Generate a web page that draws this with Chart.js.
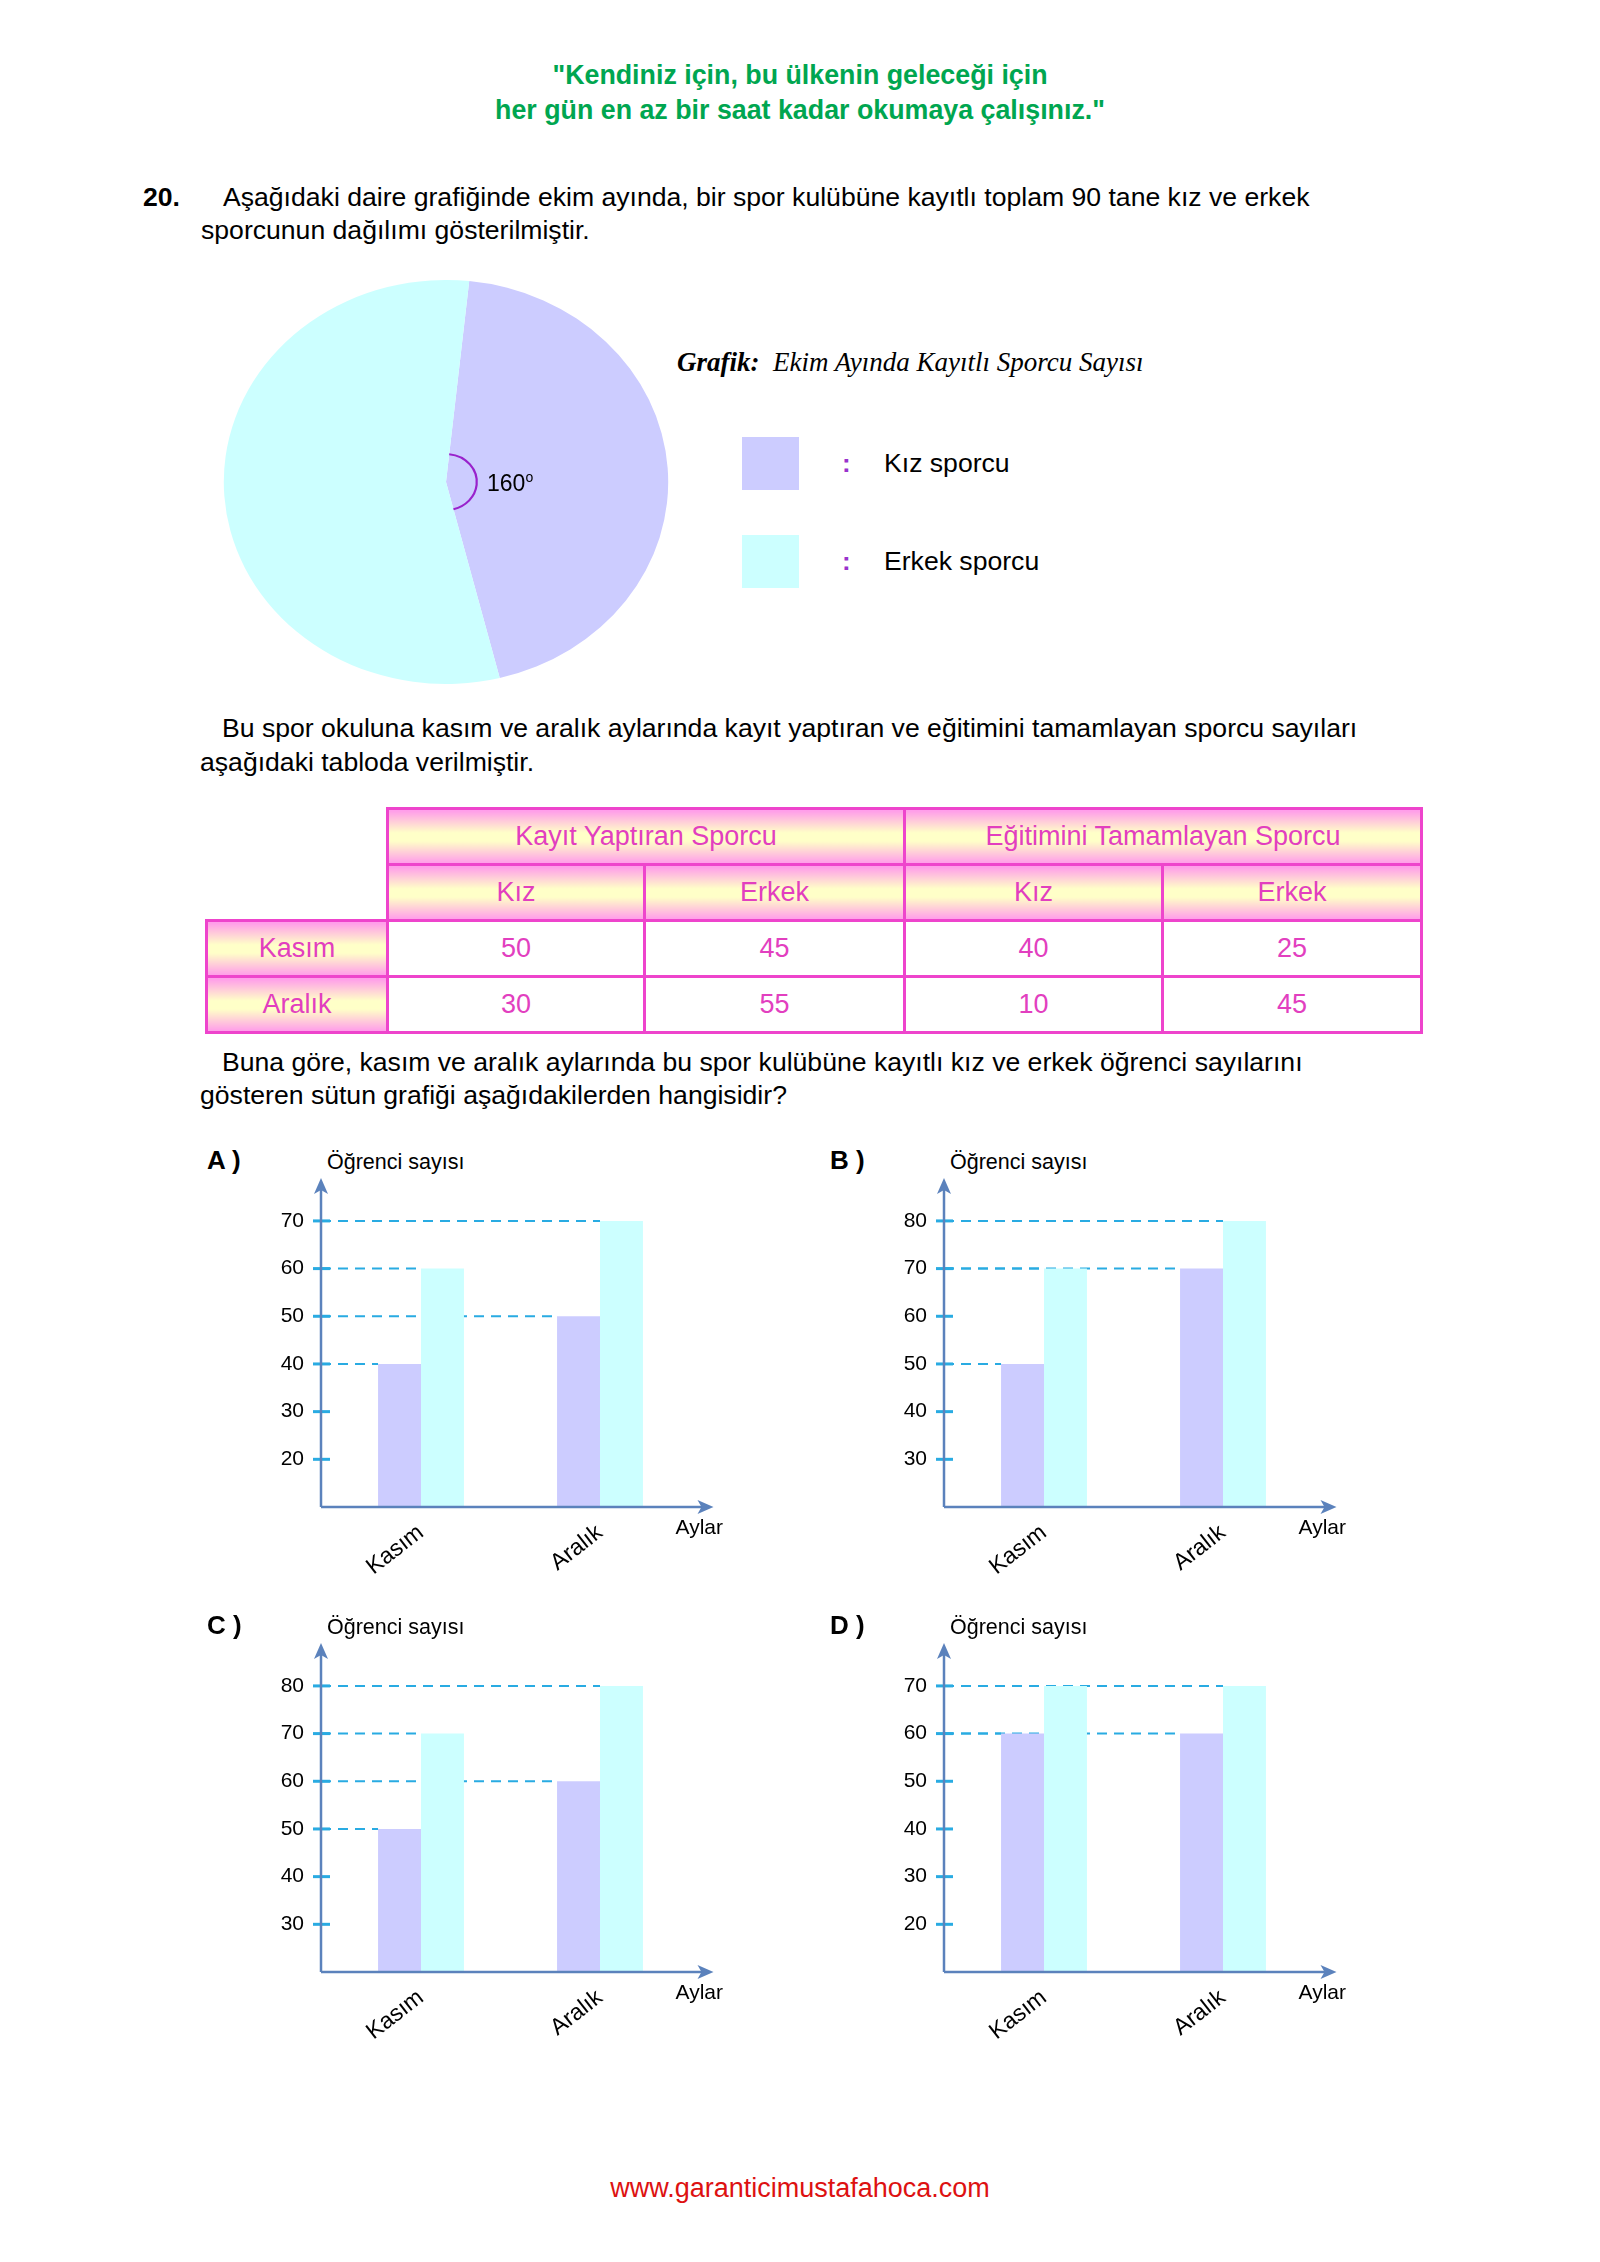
<!DOCTYPE html>
<html>
<head>
<meta charset="utf-8">
<script src="https://cdn.jsdelivr.net/npm/chart.js@4"></script>
<style>
  body { margin: 0; background: #fff; }
  #page { position: relative; width: 1600px; height: 2262px; font-family: "Liberation Sans", Arial, sans-serif; color: #000; }
  .t { position: absolute; white-space: nowrap; font-size: 26.6px; line-height: 30px; }
  .green { color: #00a650; font-weight: bold; width: 1600px; left: 0; text-align: center; font-size: 26.8px; }
  .panel { position: absolute; width: 620px; height: 460px; }
  .panel .letter { position: absolute; left: 27px; top: 25px; font-size: 26px; font-weight: bold; line-height: 30px; }
  .panel .ytitle { position: absolute; left: 147px; top: 29px; font-size: 21.5px; line-height: 26px; }
  .panel canvas { position: absolute; left: 60px; top: 40px; }
  #tbl { position: absolute; left: 205px; top: 807px; border-collapse: collapse; table-layout: fixed; width: 1215px; font-size: 27px; color: #e23fbf; }
  #tbl tr { height: 56px; }
  #tbl td { border: 3px solid #ee44cc; text-align: center; padding: 0; }
  #tbl td.h { background: linear-gradient(#ff9bea, #ffffc8 42%, #ffffc8 58%, #ff9bea); }
  #tbl td.blank { border-top: none; border-left: none; background: none; }
  #tbl td.blank.first { border-bottom: none; }
  .lbox { position: absolute; width: 57px; height: 53px; }
  .colon { position: absolute; color: #9933cc; font-weight: bold; font-size: 26px; line-height: 30px; }
</style>
</head>
<body>
<div id="page">
  <div class="t green" style="top:60px">"Kendiniz için, bu ülkenin geleceği için</div>
  <div class="t green" style="top:95px">her gün en az bir saat kadar okumaya çalışınız."</div>

  <div class="t" style="left:143px; top:182px; font-weight:bold">20.</div>
  <div class="t" style="left:223px; top:182px">Aşağıdaki daire grafiğinde ekim ayında, bir spor kulübüne kayıtlı toplam 90 tane kız ve erkek</div>
  <div class="t" style="left:201px; top:215px">sporcunun dağılımı gösterilmiştir.</div>

  <canvas id="pie" style="position:absolute; left:223px; top:280px;"></canvas>
  <div class="t" style="left:487px; top:463px; font-size:23px; line-height:28px">160<sup style="font-size:14px; vertical-align:9px">o</sup></div>

  <div class="t" style="left:677px; top:347px; font-family:'Liberation Serif','Times New Roman',serif; font-style:italic; font-size:27px">
    <b>Grafik:</b>&nbsp; Ekim Ayında Kayıtlı Sporcu Sayısı</div>
  <div id="legend"></div>

  <div class="t" style="left:222px; top:713px">Bu spor okuluna kasım ve aralık aylarında kayıt yaptıran ve eğitimini tamamlayan sporcu sayıları</div>
  <div class="t" style="left:200px; top:747px">aşağıdaki tabloda verilmiştir.</div>

  <table id="tbl"></table>

  <div class="t" style="left:222px; top:1047px">Buna göre, kasım ve aralık aylarında bu spor kulübüne kayıtlı kız ve erkek öğrenci sayılarını</div>
  <div class="t" style="left:200px; top:1080px">gösteren sütun grafiği aşağıdakilerden hangisidir?</div>

  <div id="panels"></div>

  <div class="t" style="left:0; width:1600px; text-align:center; top:2173px; color:#dd1111; font-size:27px">www.garanticimustafahoca.com</div>
</div>

<script>
// --- pie data (ekim) ---
const pieLabels = ['Kız sporcu', 'Erkek sporcu'];
const pieValues = [40, 50];          // 40 kız -> 160 derece
const pieColors = ['#ccccff', '#ccffff'];

// --- table data ---
const tableGroups = ['Kayıt Yaptıran Sporcu', 'Eğitimini Tamamlayan Sporcu'];
const tableCols = ['Kız', 'Erkek', 'Kız', 'Erkek'];
const tableRows = ['Kasım', 'Aralık'];
const kasimRow = [50, 45, 40, 25];
const aralikRow = [30, 55, 10, 45];

// --- bar chart options A..D ---
const months = ['Kasım', 'Aralık'];
const seriesNames = ['Kız', 'Erkek'];
const kizA = [40, 50], erkekA = [60, 70];
const kizB = [50, 70], erkekB = [70, 80];
const kizC = [50, 60], erkekC = [70, 80];
const kizD = [60, 60], erkekD = [70, 70];
const ticksA = [20, 30, 40, 50, 60, 70];
const ticksB = [30, 40, 50, 60, 70, 80];
const ticksC = [30, 40, 50, 60, 70, 80];
const ticksD = [20, 30, 40, 50, 60, 70];

const AXIS_COLOR = '#5b82bc';
const TICK_COLOR = '#29abe2';
const AXIS_GAP = 10.5;   // y axis line sits a bit left of the plot area

Chart.defaults.font.family = "'Liberation Sans', Arial, sans-serif";
Chart.defaults.animation = false;

// legend
const legend = document.getElementById('legend');
pieLabels.forEach((lab, i) => {
    const top = 437 + i * 98;
    legend.innerHTML += '<div class="lbox" style="left:742px; top:' + top + 'px; background:' + pieColors[i] + '"></div>' +
        '<div class="colon" style="left:842px; top:' + (top + 11) + 'px">:</div>' +
        '<div class="t" style="left:884px; top:' + (top + 11) + 'px">' + lab + '</div>';
});

// table
const tbl = document.getElementById('tbl');
const colW = [181, 257, 260, 258, 259];
let html = '<colgroup>' + colW.map(w => '<col style="width:' + w + 'px">').join('') + '</colgroup>';
html += '<tr><td class="blank first"></td>';
tableGroups.forEach(g => { html += '<td class="h" colspan="2">' + g + '</td>'; });
html += '</tr><tr><td class="blank"></td>';
tableCols.forEach(c => { html += '<td class="h">' + c + '</td>'; });
html += '</tr>';
[kasimRow, aralikRow].forEach((row, r) => {
    html += '<tr><td class="h">' + tableRows[r] + '</td>';
    row.forEach(v => { html += '<td>' + v + '</td>'; });
    html += '</tr>';
});
tbl.innerHTML = html;

// pie, drawn slightly wider than tall like the original
const PIE_STRETCH = 1.1;
const pieShape = {
    id: 'pieShape',
    beforeDatasetsDraw(chart) {
        const ctx = chart.ctx;
        const cx = (chart.chartArea.left + chart.chartArea.right) / 2;
        ctx.save();
        ctx.translate(cx, 0);
        ctx.scale(PIE_STRETCH, 1);
        ctx.translate(-cx, 0);
    },
    afterDatasetsDraw(chart) {
        const ctx = chart.ctx;
        const arc = chart.getDatasetMeta(0).data[0];
        ctx.beginPath();
        ctx.arc(arc.x, arc.y, 28, arc.startAngle, arc.endAngle);
        ctx.strokeStyle = '#9922cc';
        ctx.lineWidth = 2;
        ctx.stroke();
        ctx.restore();
    }
};
const pieCanvas = document.getElementById('pie');
pieCanvas.width = 446; pieCanvas.height = 404;
new Chart(pieCanvas, {
    type: 'pie',
    data: {
        labels: pieLabels,
        datasets: [{ data: pieValues, backgroundColor: pieColors, borderWidth: 0, hoverOffset: 0 }]
    },
    options: {
        responsive: false,
        rotation: 6,
        layout: { padding: 0 },
        plugins: { legend: { display: false }, tooltip: { enabled: false } }
    },
    plugins: [pieShape]
});

// axes with arrows, ticks and dashed guide lines
const axisPlugin = {
    id: 'axisPlugin',
    beforeDatasetsDraw(chart) {
        const { ctx, chartArea } = chart;
        const ax = chartArea.left - AXIS_GAP;
        ctx.save();
        ctx.strokeStyle = TICK_COLOR;
        ctx.lineWidth = 2;
        ctx.setLineDash([10, 7]);
        chart.data.datasets.forEach((ds, i) => {
            chart.getDatasetMeta(i).data.forEach(bar => {
                ctx.beginPath();
                ctx.moveTo(ax, bar.y);
                ctx.lineTo(bar.x - bar.width / 2, bar.y);
                ctx.stroke();
            });
        });
        ctx.restore();
    },
    afterDraw(chart) {
        const { ctx, chartArea, scales } = chart;
        const ax = chartArea.left - AXIS_GAP;
        const bottom = chartArea.bottom;
        const top = chartArea.top;
        const tipX = chartArea.right + 24;
        ctx.save();
        // tick marks
        ctx.strokeStyle = TICK_COLOR;
        ctx.lineWidth = 3;
        scales.y.ticks.forEach(t => {
            const y = scales.y.getPixelForValue(t.value);
            ctx.beginPath();
            ctx.moveTo(ax - 8, y);
            ctx.lineTo(ax + 9, y);
            ctx.stroke();
        });
        // axis lines
        ctx.strokeStyle = AXIS_COLOR;
        ctx.fillStyle = AXIS_COLOR;
        ctx.lineWidth = 2.5;
        ctx.beginPath();
        ctx.moveTo(ax, bottom);
        ctx.lineTo(ax, top + 10);
        ctx.moveTo(ax, bottom);
        ctx.lineTo(tipX - 10, bottom);
        ctx.stroke();
        // arrow heads
        ctx.beginPath();
        ctx.moveTo(ax, top);
        ctx.lineTo(ax + 7, top + 16);
        ctx.lineTo(ax, top + 12);
        ctx.lineTo(ax - 7, top + 16);
        ctx.closePath();
        ctx.fill();
        ctx.beginPath();
        ctx.moveTo(tipX, bottom);
        ctx.lineTo(tipX - 16, bottom - 7);
        ctx.lineTo(tipX - 12, bottom);
        ctx.lineTo(tipX - 16, bottom + 7);
        ctx.closePath();
        ctx.fill();
        // x axis title
        ctx.fillStyle = '#000';
        ctx.font = "21px 'Liberation Sans', Arial, sans-serif";
        ctx.textBaseline = 'middle';
        ctx.textAlign = 'left';
        ctx.fillText('Aylar', chartArea.right - 14, bottom + 21);
        ctx.restore();
    }
};

const panels = document.getElementById('panels');
function makeBar(letter, px, py, kiz, erkek, tickVals, yMin) {
    const div = document.createElement('div');
    div.className = 'panel';
    div.style.left = px + 'px';
    div.style.top = py + 'px';
    div.innerHTML = '<div class="letter">' + letter + ' )</div><div class="ytitle">Öğrenci sayısı</div>';
    const cv = document.createElement('canvas');
    cv.width = 520; cv.height = 447;
    div.appendChild(cv);
    panels.appendChild(div);
    new Chart(cv, {
        type: 'bar',
        data: {
            labels: months,
            datasets: [
                { label: seriesNames[0], data: kiz, backgroundColor: pieColors[0] },
                { label: seriesNames[1], data: erkek, backgroundColor: pieColors[1] }
            ]
        },
        options: {
            responsive: false,
            layout: { padding: { top: 18, right: 70.5, left: 0, bottom: 0 } },
            categoryPercentage: 0.48,
            barPercentage: 1.0,
            plugins: { legend: { display: false }, tooltip: { enabled: false } },
            scales: {
                x: {
                    grid: { display: false, drawTicks: false },
                    border: { display: false },
                    ticks: { color: '#000', font: { size: 23 }, minRotation: 38, maxRotation: 38, padding: 12 },
                    afterFit: s => { s.height = 100; s.paddingLeft = 0; s.paddingRight = 0; }
                },
                y: {
                    min: yMin,
                    max: yMin + 69,
                    grid: { display: false, drawTicks: false },
                    border: { display: false },
                    ticks: { color: '#000', font: { size: 21 }, padding: 27.5 },
                    afterBuildTicks: s => { s.ticks = tickVals.map(v => ({ value: v })); },
                    afterFit: s => { s.width = 91.5; s.paddingTop = 0; s.paddingBottom = 0; }
                }
            }
        },
        plugins: [axisPlugin]
    });
}

makeBar('A', 180, 1120, kizA, erkekA, ticksA, 10);
makeBar('B', 803, 1120, kizB, erkekB, ticksB, 20);
makeBar('C', 180, 1585, kizC, erkekC, ticksC, 20);
makeBar('D', 803, 1585, kizD, erkekD, ticksD, 10);
</script>
</body>
</html>
